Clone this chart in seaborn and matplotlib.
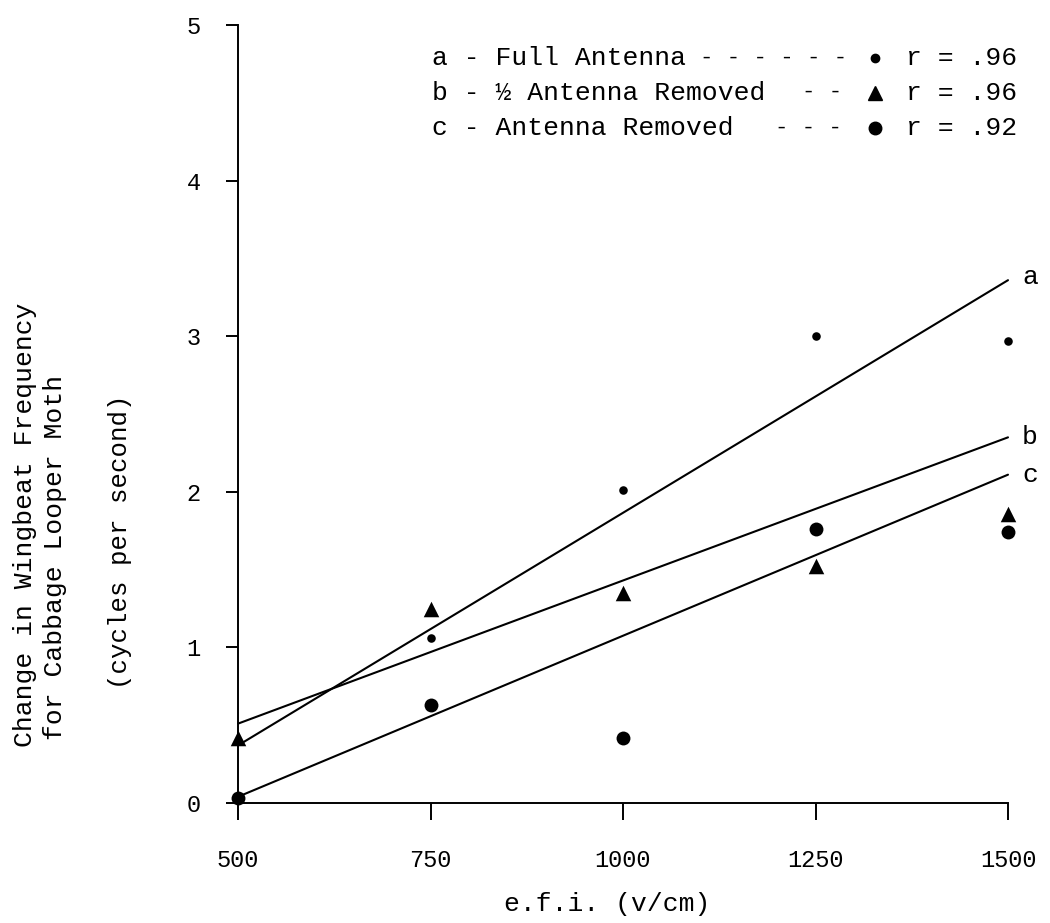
import matplotlib
matplotlib.use("Agg")
import matplotlib.pyplot as plt
import numpy as np
import pandas as pd
import seaborn as sns

# ---------------- data ----------------
efi_a = [750, 1000, 1250, 1500]
full_antenna = [1.06, 2.01, 3.00, 2.97]
efi_bc = [500, 750, 1000, 1250, 1500]
half_removed = [0.42, 1.25, 1.35, 1.52, 1.86]
antenna_removed = [0.03, 0.63, 0.42, 1.76, 1.74]

fit_x = [500, 1500]
fit_a = [0.37, 3.36]
fit_b = [0.51, 2.35]
fit_c = [0.04, 2.11]

line_labels = ["a", "b", "c"]
legend_labels = ["a - Full Antenna", "b - \u00bd Antenna Removed", "c - Antenna Removed"]
legend_dashes = ["- - - - - -", "- -", "- - -"]
r_values = [".96", ".96", ".92"]

x_ticks = [500, 750, 1000, 1250, 1500]
y_ticks = [0, 1, 2, 3, 4, 5]

# ---------------- styling ----------------
sns.set_theme(style="white")
MONO = ["Liberation Mono", "DejaVu Sans Mono"]
plt.rcParams["font.family"] = MONO

W, H = 1050, 923
fig = plt.figure(figsize=(W / 100, H / 100), dpi=100)
ax = fig.add_axes([238 / W, 1 - 803 / H, 770 / W, 778 / H])

# regression lines
for fx, fy in [(fit_x, fit_a), (fit_x, fit_b), (fit_x, fit_c)]:
    sns.lineplot(x=fx, y=fy, ax=ax, color="black", linewidth=1.5, clip_on=False)

# points
sns.scatterplot(x=efi_a, y=full_antenna, ax=ax, marker="o", s=38, color="black",
                edgecolor="black", linewidth=0, clip_on=False, zorder=5)
sns.scatterplot(x=efi_bc, y=half_removed, ax=ax, marker="^", s=125, color="black",
                edgecolor="black", linewidth=0, clip_on=False, zorder=5)
sns.scatterplot(x=efi_bc, y=antenna_removed, ax=ax, marker="o", s=100, color="black",
                edgecolor="black", linewidth=0, clip_on=False, zorder=5)

# line end labels
for lab, fy, dy in zip(line_labels, [fit_a, fit_b, fit_c], [2, 0, 0]):
    ax.annotate(lab, xy=(fit_x[-1], fy[-1]), xytext=(10, dy), textcoords="offset points",
                ha="left", va="center", fontsize=19, color="black")

ax.set_xlim(500, 1500)
ax.set_ylim(0, 5)
ax.set_xticks(x_ticks)
ax.set_yticks(y_ticks)
ax.set_xticklabels([str(v) for v in x_ticks], fontsize=17)
ax.set_yticklabels([str(v) for v in y_ticks], fontsize=17)
ax.tick_params(axis="x", bottom=True, direction="out", length=12, width=1.4, pad=21, colors="black")
ax.tick_params(axis="y", left=True, direction="out", length=9, width=1.4, pad=18, colors="black")
for side in ["top", "right"]:
    ax.spines[side].set_visible(False)
for side in ["left", "bottom"]:
    ax.spines[side].set_color("black")
    ax.spines[side].set_linewidth(1.4)
ax.grid(False)
ax.set_facecolor("white")

ax.set_xlabel("e.f.i. (v/cm)", fontsize=19, color="black")
ax.xaxis.set_label_coords(0.479, -0.114)
ax.set_ylabel("")

# y-axis title (three rotated lines)
fig.text(25 / W, 1 - 747 / H, "Change in Wingbeat Frequency", rotation=90,
         ha="center", va="bottom", fontsize=19, color="black")
fig.text(55 / W, 1 - 740 / H, "for Cabbage Looper Moth", rotation=90,
         ha="center", va="bottom", fontsize=19, color="black")
fig.text(120 / W, 1 - 542 / H, "(cycles per second)", rotation=90,
         ha="center", va="center", fontsize=18.5, color="black")

# legend block
row_y = [58, 93, 128]
dash_x = [700, 802, 775]
markers = [("o", 6), ("^", 10), ("o", 9)]
for i in range(3):
    yy = 1 - row_y[i] / H
    fig.text(432 / W, yy, legend_labels[i], ha="left", va="center", fontsize=19, color="black")
    fig.text(dash_x[i] / W, yy, legend_dashes[i], ha="left", va="center", fontsize=16, color="black")
    m, ms = markers[i]
    ax.plot([875 / W], [yy], marker=m, markersize=ms, color="black", linestyle="none",
            transform=fig.transFigure, clip_on=False)
    fig.text(906 / W, yy, "r = " + r_values[i], ha="left", va="center", fontsize=19, color="black")

fig.savefig("out.png", dpi=100, facecolor="white")
